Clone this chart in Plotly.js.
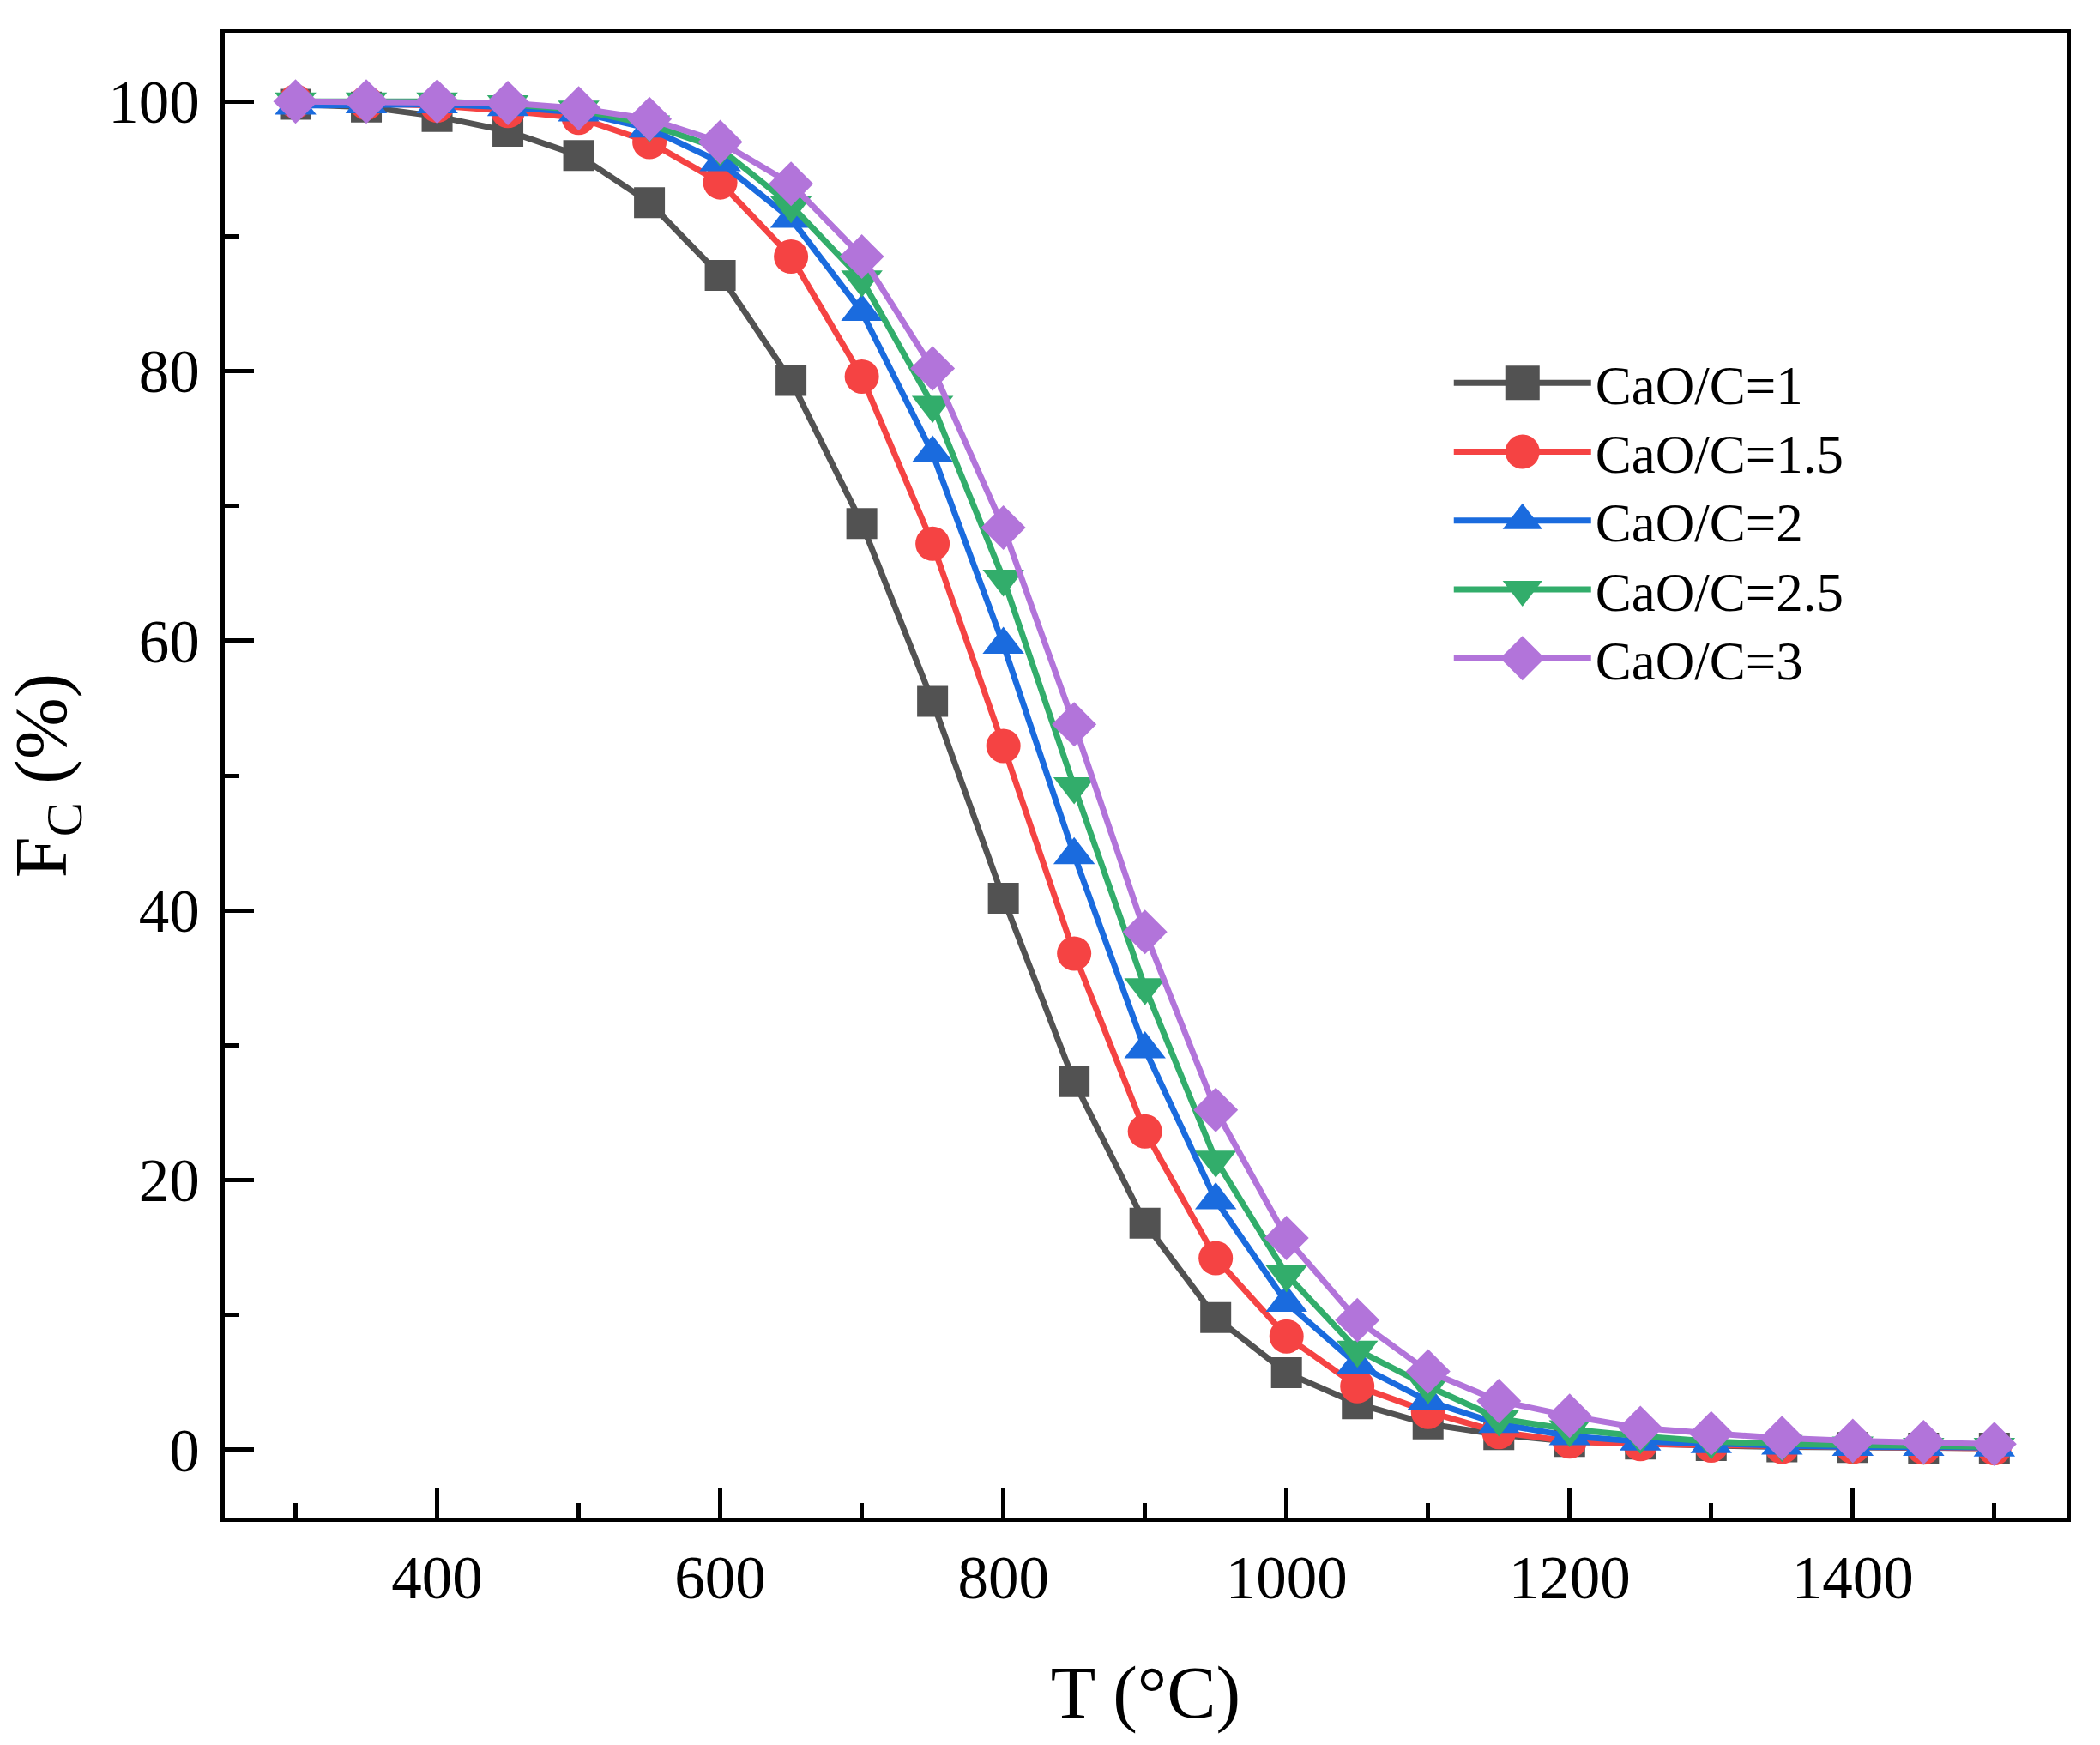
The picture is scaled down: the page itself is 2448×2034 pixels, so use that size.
<!DOCTYPE html>
<html>
<head>
<meta charset="utf-8">
<script src="https://cdn.plot.ly/plotly-3.0.1.min.js"></script>
<style>
  body { margin: 0; background: #fff; }
  #main { width: 2448px; height: 2034px; }
</style>
</head>
<body>
<div id="main"></div>
<script>
// temperature (°C) and carbon conversion F_C (%) per CaO/C ratio
const temps = [300, 350, 400, 450, 500, 550, 600, 650, 700, 750, 800, 850, 900,
  950, 1000, 1050, 1100, 1150, 1200, 1250, 1300, 1350, 1400, 1450, 1500]

const fcRatio1 = [99.8, 99.6, 98.9, 97.8, 96.0, 92.5, 87.1, 79.3, 68.7, 55.5, 40.9, 27.3, 16.8,
  9.8, 5.7, 3.4, 1.9, 1.1, 0.6, 0.4, 0.3, 0.2, 0.15, 0.1, 0.1]
const fcRatio15 = [100, 99.9, 99.7, 99.3, 98.8, 97.0, 94.0, 88.5, 79.6, 67.2, 52.2, 36.8, 23.6,
  14.2, 8.4, 4.7, 2.8, 1.3, 0.6, 0.4, 0.3, 0.2, 0.2, 0.15, 0.1]
const fcRatio2 = [99.7, 99.8, 99.8, 99.6, 99.2, 98.0, 95.5, 91.3, 84.4, 73.9, 59.7, 44.1, 29.7,
  18.5, 10.9, 6.3, 3.6, 1.9, 1.0, 0.6, 0.4, 0.3, 0.2, 0.2, 0.15]
const fcRatio25 = [100, 100, 100, 99.8, 99.4, 98.3, 96.5, 92.3, 86.8, 77.5, 64.6, 49.2, 34.3,
  21.5, 13.0, 7.4, 4.7, 2.3, 1.5, 1.0, 0.6, 0.4, 0.3, 0.2, 0.2]
const fcRatio3 = [100, 100, 100, 99.9, 99.5, 98.7, 97.0, 93.9, 88.5, 80.2, 68.4, 53.8, 38.4,
  25.2, 15.7, 9.6, 5.8, 3.6, 2.5, 1.6, 1.2, 0.85, 0.65, 0.55, 0.4]

const seriesNames = ['CaO/C=1', 'CaO/C=1.5', 'CaO/C=2', 'CaO/C=2.5', 'CaO/C=3']
const seriesValues = [fcRatio1, fcRatio15, fcRatio2, fcRatio25, fcRatio3]

const styles = [
  { color: '#525252', symbol: 'square', size: 36 },
  { color: '#F54343', symbol: 'circle', size: 40 },
  { color: '#1A6BDE', symbol: 'triangle-up', size: 42 },
  { color: '#32AD6B', symbol: 'triangle-down', size: 42 },
  { color: '#B274DA', symbol: 'diamond', size: 40 },
]

const FONT = 'Liberation Serif, Times New Roman, serif'

const traces = seriesValues.map((vals, i) => ({
  x: temps,
  y: vals,
  type: 'scatter',
  mode: 'lines+markers',
  name: seriesNames[i],
  line: { color: styles[i].color, width: 7 },
  marker: { symbol: styles[i].symbol, size: styles[i].size, color: styles[i].color },
}))

const axisCommon = {
  showline: true,
  linecolor: '#000',
  linewidth: 5,
  mirror: true,
  showgrid: false,
  zeroline: false,
  ticks: 'inside',
  ticklen: 34,
  tickwidth: 5,
  tickcolor: '#000',
  tickfont: { family: FONT, size: 71, color: '#000' },
}

const layout = {
  width: 2448,
  height: 2034,
  margin: { l: 262, r: 39, t: 39, b: 265 },
  paper_bgcolor: '#fff',
  plot_bgcolor: '#fff',
  font: { family: FONT, color: '#000' },
  xaxis: Object.assign({}, axisCommon, {
    range: [250, 1551],
    tick0: 0,
    dtick: 200,
    ticklabelstandoff: 4,
    minor: { dtick: 100, ticks: 'inside', ticklen: 17, tickwidth: 5, tickcolor: '#000' },
    title: { text: 'T (°C)', font: { family: FONT, size: 86, color: '#000' }, standoff: 66 },
  }),
  yaxis: Object.assign({}, axisCommon, {
    range: [-5.05, 105.05],
    tick0: 0,
    dtick: 20,
    ticklabelstandoff: 10,
    minor: { dtick: 10, ticks: 'inside', ticklen: 17, tickwidth: 5, tickcolor: '#000' },
    title: { text: 'F<sub>C</sub> (%)', font: { family: FONT, size: 86, color: '#000' }, standoff: 46 },
  }),
  showlegend: true,
  legend: {
    x: 0.665,
    y: 0.792,
    xanchor: 'left',
    yanchor: 'top',
    bgcolor: 'rgba(0,0,0,0)',
    font: { family: FONT, size: 63, color: '#000' },
    itemwidth: 160,
    tracegroupgap: 0,
  },
}

Plotly.newPlot('main', traces, layout, { staticPlot: true }).then(gd => {
  // legend symbols are capped at 16px by plotly, scale them up to match the plot markers
  gd.querySelectorAll('.legend .legendpoints path').forEach(p => {
    const t = p.getAttribute('transform') || ''
    p.setAttribute('transform', t + ' scale(2.5)')
  })
  // tighten the legend rows a little
  const rows = gd.querySelectorAll('.legend .traces')
  let y0 = null
  rows.forEach(g => {
    const m = /translate\(([-\d.]+)[ ,]+([-\d.]+)\)/.exec(g.getAttribute('transform') || '')
    if (!m) return
    const x = parseFloat(m[1]), y = parseFloat(m[2])
    if (y0 === null) y0 = y
    g.setAttribute('transform', `translate(${x},${y0 + (y - y0) * 0.945})`)
  })
})
</script>
</body>
</html>
